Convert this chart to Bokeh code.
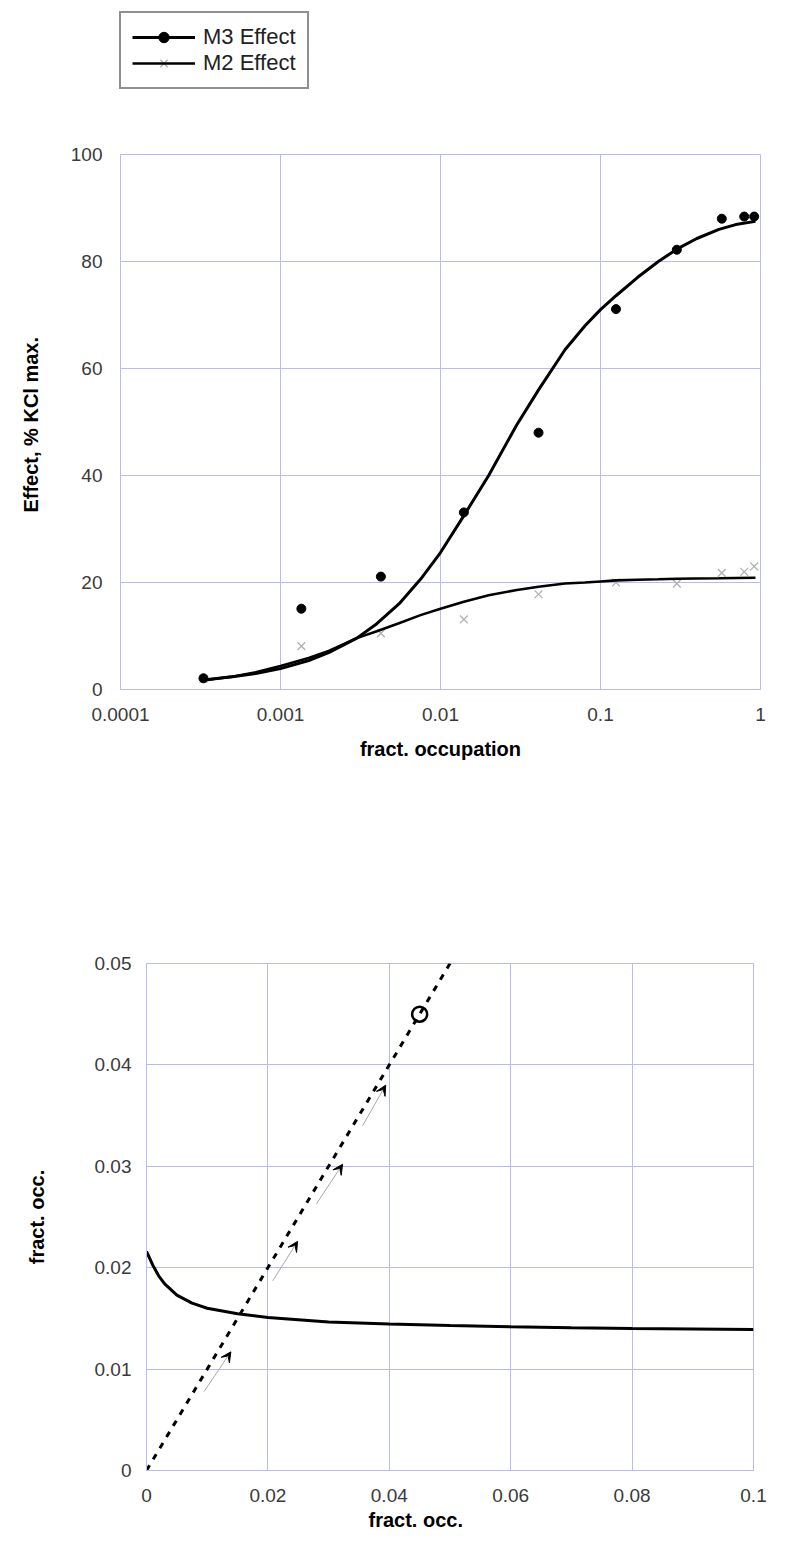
from bokeh.plotting import figure
from bokeh.models import (Legend, LegendItem, FixedTicker, Range1d, Arrow, VeeHead,
                          ColumnDataSource, Title)
from bokeh.embed import file_html
from bokeh.resources import INLINE

FONT = "Liberation Sans"
GRID = "#b9b9f3"
TICK_COLOR = "#3a3a3a"

# ---------------- top chart data ----------------
occ_pts = [3.3e-4, 1.35e-3, 4.24e-3, 0.0140, 0.041, 0.125, 0.30, 0.573, 0.791, 0.913]
m3_pts = [2.1, 15.1, 21.1, 33.1, 48.0, 71.1, 82.2, 88.0, 88.4, 88.4]
m2_pts = [2.0, 8.1, 10.5, 13.1, 17.8, 20.0, 19.8, 21.8, 22.0, 23.0]

fit_occ = [3.3e-4, 5e-4, 7e-4, 1e-3, 1.5e-3, 2e-3, 3e-3, 4e-3, 5.5e-3, 7.5e-3, 0.01,
           0.014, 0.02, 0.03, 0.041, 0.06, 0.08, 0.1, 0.125, 0.17, 0.23, 0.3, 0.4,
           0.55, 0.7, 0.93]
m3_fit = [1.8, 2.4, 3.0, 3.9, 5.4, 6.9, 9.6, 12.3, 16.0, 20.6, 25.6, 32.5, 40.0, 49.5,
          56.0, 63.5, 68.0, 71.0, 73.6, 77.0, 80.0, 82.3, 84.3, 86.0, 86.9, 87.5]
m2_fit = [1.7, 2.4, 3.2, 4.4, 5.9, 7.2, 9.6, 10.9, 12.4, 13.9, 15.1, 16.4, 17.6, 18.6,
          19.2, 19.8, 20.0, 20.2, 20.4, 20.5, 20.6, 20.7, 20.75, 20.8, 20.85, 20.9]

top_x_ticks = [1e-4, 1e-3, 1e-2, 0.1, 1.0]
top_x_labels = ["0.0001", "0.001", "0.01", "0.1", "1"]
top_y_ticks = [0, 20, 40, 60, 80, 100]
series_names = ["M3 Effect", "M2 Effect"]

# ---------------- bottom chart data ----------------
curve_x = [0, 0.001, 0.002, 0.003, 0.005, 0.0075, 0.01, 0.015, 0.02, 0.03, 0.04, 0.05,
           0.06, 0.07, 0.08, 0.09, 0.1]
curve_y = [0.0216, 0.0203, 0.0192, 0.0184, 0.0173, 0.0165, 0.0160, 0.01545, 0.0151,
           0.01465, 0.01445, 0.0143, 0.01418, 0.01408, 0.0140, 0.01395, 0.0139]
diag_x = [0.0, 0.05]
diag_y = [0.0, 0.05]
obs_x = [0.045]
obs_y = [0.045]
arrow_x0 = [0.0095, 0.0208, 0.0280, 0.0356]
arrow_y0 = [0.0078, 0.0187, 0.0263, 0.0340]
arrow_x1 = [0.0139, 0.0249, 0.0323, 0.0394]
arrow_y1 = [0.0117, 0.0226, 0.0302, 0.0380]

bot_x_ticks = [0, 0.02, 0.04, 0.06, 0.08, 0.1]
bot_x_labels = ["0", "0.02", "0.04", "0.06", "0.08", "0.1"]
bot_y_ticks = [0, 0.01, 0.02, 0.03, 0.04, 0.05]
bot_y_labels = ["0", "0.01", "0.02", "0.03", "0.04", "0.05"]

M3_STYLE = dict(line_color="black", line_width=3)
M2_STYLE = dict(line_color="black", line_width=2.6)
M3_MARK = dict(marker="circle", size=9, fill_color="black", line_color="black")
M2_MARK = dict(marker="x", size=11, line_color="#b0b0b0", line_width=1.3)


def style(p):
    p.background_fill_color = "white"
    p.border_fill_color = "white"
    p.outline_line_color = GRID
    p.outline_line_width = 1
    for g in (p.xgrid, p.ygrid):
        g.grid_line_color = GRID
        g.grid_line_width = 1
    for ax in (p.xaxis, p.yaxis):
        ax.axis_line_color = GRID
        ax.major_tick_out = 0
        ax.major_tick_in = 0
        ax.minor_tick_out = 0
        ax.minor_tick_in = 0
        ax.major_label_text_font = FONT
        ax.major_label_text_font_size = "19px"
        ax.major_label_text_color = TICK_COLOR
        ax.axis_label_text_font = FONT
        ax.axis_label_text_font_size = "20px"
        ax.axis_label_text_font_style = "bold"
        ax.axis_label_text_color = "black"


# ---------------- legend strip (above the top chart) ----------------
# its series glyphs fall outside this strip's 0..1 range, so only the legend shows
p0 = figure(width=776, height=110, x_range=Range1d(0, 1), y_range=Range1d(0, 1),
            x_axis_location=None, y_axis_location=None, min_border=0,
            output_backend="svg", toolbar_location=None)
p0.grid.visible = False
p0.outline_line_color = None
p0.background_fill_color = "white"
p0.border_fill_color = "white"
lg_m3_line = p0.line(fit_occ, m3_fit, **M3_STYLE)
lg_m3_pts = p0.scatter(occ_pts, m3_pts, **M3_MARK)
lg_m2_pts = p0.scatter(occ_pts, m2_pts, **M2_MARK)
lg_m2_line = p0.line(fit_occ, m2_fit, **M2_STYLE)

legend = Legend(items=[LegendItem(label=series_names[0], renderers=[lg_m3_line, lg_m3_pts]),
                       LegendItem(label=series_names[1], renderers=[lg_m2_pts, lg_m2_line])],
                location=(119, 21))
legend.border_line_color = "#222222"
legend.border_line_width = 2
legend.padding = 11
legend.spacing = 0
legend.margin = 0
legend.glyph_width = 63
legend.glyph_height = 26
legend.label_height = 26
legend.label_standoff = 8
legend.label_text_font = FONT
legend.label_text_font_size = "22px"
legend.label_text_color = "#222222"
legend.background_fill_color = "white"
legend.background_fill_alpha = 1
p0.add_layout(legend)

# ---------------- top figure ----------------
p1 = figure(x_axis_type="log", x_range=Range1d(1e-4, 1), y_range=Range1d(0, 100),
            frame_width=640, frame_height=535, min_border_left=120, min_border_right=16,
            min_border_top=44, min_border_bottom=120,
            output_backend="svg", toolbar_location=None)
style(p1)
p1.xaxis.ticker = FixedTicker(ticks=top_x_ticks, minor_ticks=[])
p1.xaxis.major_label_overrides = dict(zip(top_x_ticks, top_x_labels))
p1.yaxis.ticker = FixedTicker(ticks=top_y_ticks, minor_ticks=[])
p1.xgrid.ticker = FixedTicker(ticks=top_x_ticks, minor_ticks=[])
p1.ygrid.ticker = FixedTicker(ticks=top_y_ticks, minor_ticks=[])
p1.xaxis.axis_label = "fract. occupation"
p1.yaxis.axis_label = "Effect,  % KCl max."
p1.xaxis.major_label_standoff = 18
p1.yaxis.major_label_standoff = 18
p1.xaxis.axis_label_standoff = 14
p1.yaxis.axis_label_standoff = 26

p1.scatter(occ_pts, m2_pts, **M2_MARK)
p1.line(fit_occ, m2_fit, **M2_STYLE)
p1.line(fit_occ, m3_fit, **M3_STYLE)
p1.scatter(occ_pts, m3_pts, **M3_MARK)

# ---------------- bottom figure ----------------
p2 = figure(x_range=Range1d(0, 0.1), y_range=Range1d(0, 0.05),
            frame_width=607, frame_height=507, min_border_left=146, min_border_right=23,
            min_border_top=154, min_border_bottom=6,
            output_backend="svg", toolbar_location=None)
style(p2)
p2.xaxis.ticker = FixedTicker(ticks=bot_x_ticks, minor_ticks=[])
p2.yaxis.ticker = FixedTicker(ticks=bot_y_ticks, minor_ticks=[])
p2.xgrid.ticker = FixedTicker(ticks=bot_x_ticks, minor_ticks=[])
p2.ygrid.ticker = FixedTicker(ticks=bot_y_ticks, minor_ticks=[])
p2.xaxis.major_label_overrides = dict(zip(bot_x_ticks, bot_x_labels))
p2.yaxis.major_label_overrides = dict(zip(bot_y_ticks, bot_y_labels))
p2.yaxis.axis_label = "fract. occ."
p2.xaxis.major_label_standoff = 18
p2.yaxis.major_label_standoff = 15
p2.yaxis.axis_label_standoff = 44

# x-axis title of the lower chart sits left of the frame centre in the reference
xt = Title(text="fract. occ.", align="left", offset=222, standoff=4,
           text_font=FONT, text_font_size="20px", text_font_style="bold",
           text_color="black")
p2.add_layout(xt, "below")

arrows = ColumnDataSource(dict(x0=arrow_x0, y0=arrow_y0, x1=arrow_x1, y1=arrow_y1))
p2.add_layout(Arrow(x_start="x0", y_start="y0", x_end="x1", y_end="y1", source=arrows,
                    line_color="#a8a8a8", line_width=1,
                    end=VeeHead(size=10, fill_color="black", line_color="black",
                                line_width=1)))
p2.line(curve_x, curve_y, line_color="black", line_width=3)
p2.line(diag_x, diag_y, line_color="black", line_width=3, line_dash="6 7")
p2.scatter(obs_x, obs_y, marker="circle", size=15, fill_color=None,
           line_color="black", line_width=2.5)

# three independent roots, stacked: no frame alignment between the charts
open("out.html", "w").write(file_html([p0, p1, p2], INLINE))
